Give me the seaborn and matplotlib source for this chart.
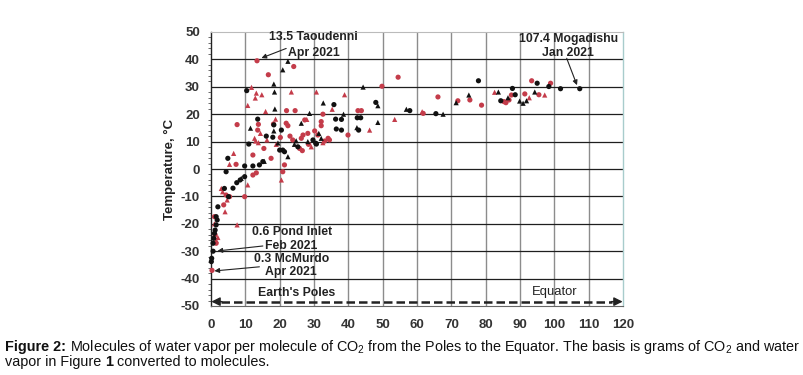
import numpy as np
import pandas as pd
import matplotlib
matplotlib.use("Agg")
import matplotlib.pyplot as plt
import seaborn as sns
from matplotlib.ticker import MultipleLocator
from matplotlib import font_manager

# ---------------- data ----------------
red_circle_x = [13.4, 24.1, 16.7, 49.8, 54.5, 7.6, 22.0, 24.5, 13.8, 18.2, 13.6, 15.4, 12.2,
                17.5, 7.3, 12.2, 13.2, 42.8, 43.8, 39.9, 32.6, 27.3, 21.9, 22.4, 32.1, 32.1,
                30.2, 28.2, 26.8, 26.3, 33.1, 34.1, 34.5, 23.8, 25.8, 26.6, 28.4, 21.4, 20.9,
                4.4, 5.4, 9.8, 3.7, 1.0, 1.5, 0.3, 61.8, 66.1, 71.9, 75.4, 78.8, 85.3, 85.9,
                86.8, 87.5, 91.4, 93.4, 95.5, 98.9, 31.1, 20.2, 23.0, 1.2]
red_circle_y = [39.5, 37.4, 34.4, 30.2, 33.5, 16.2, 21.3, 21.3, 16.3, 16.4, 14.2, 7.5, 5.1,
                3.9, 1.7, -2.2, -1.4, 21.3, 21.3, 12.4, 20.0, 17.9, 16.7, 15.8, 17.3, 15.8,
                13.9, 13.0, 12.4, 11.2, 10.2, 11.2, 10.6, 10.6, 7.5, 6.7, 9.0, 1.5, -1.0,
                -9.5, -10.1, -10.1, -13.1, -17.4, -27.1, -37.0, 20.3, 26.3, 24.9, 25.2, 23.3, 24.6, 24.2,
                25.2, 27.0, 27.4, 32.2, 27.1, 31.3, 12.4, 11.5, 12.0, -24.0]

red_triangle_x = [11.8, 13.2, 14.8, 12.9, 10.7, 15.9, 18.8, 23.4, 30.7, 38.9, 13.0, 14.4, 16.3,
                  12.7, 13.8, 19.0, 6.6, 5.4, 10.7, 3.4, 4.7, 4.1, 7.6, 3.0, 20.5, 29.2, 32.6,
                  35.3, 46.2, 53.5, 61.5, 82.6, 92.7, 97.2, 27.9, 1.5, 2.0, 1.0]
red_triangle_y = [29.8, 27.7, 27.1, 25.9, 23.2, 21.0, 18.2, 28.1, 28.1, 27.1, 10.2, 13.0, 10.6,
                  11.2, 9.6, 9.0, 5.7, 1.7, -5.8, -8.3, -11.3, -15.6, -20.4, -7.1, -4.0, 8.1, 9.6,
                  21.8, 14.2, 18.1, 20.9, 28.0, 26.0, 27.0, 18.1, -26.0, -25.0, -20.0]

black_circle_x = [10.4, 13.6, 18.3, 16.1, 18.0, 11.0, 20.0, 4.9, 15.1, 12.2, 9.8, 14.1, 4.4, 9.8,
                  35.8, 36.3, 38.0, 42.6, 43.6, 36.5, 38.0, 29.7, 30.5, 30.7, 25.3, 20.9, 21.4,
                  20.5, 48.0, 57.9, 65.5, 77.9, 84.4, 87.8, 88.6, 95.0, 98.4, 101.8, 107.4,
                  5.1, 3.9, 6.4, 1.5, 1.8, 1.5, 1.2, 1.0, 0.8, 0.6, 0.6, 0.2, 0.1, 2.0, 7.5,
                  8.5, 43.0]
black_circle_y = [28.6, 18.2, 16.1, 12.0, 11.6, 9.1, 6.9, 3.9, 2.7, 1.1, 1.1, 1.5, -1.0, -2.8,
                  23.5, 18.2, 18.1, 18.7, 18.7, 14.6, 14.2, 10.6, 9.4, 9.1, 8.1, 6.9, 6.3,
                  14.2, 24.3, 21.3, 20.2, 32.2, 24.9, 29.4, 27.1, 31.3, 30.1, 29.3, 29.3,
                  -10.1, -7.1, -7.0, -17.4, -18.6, -20.4, -22.3, -23.5, -25.3, -27.1, -30.0, -32.6, -33.8, -13.8, -5.0,
                  -4.0, 14.2]

black_triangle_x = [22.4, 20.9, 18.3, 18.5, 11.5, 18.6, 18.3, 44.3, 32.7, 28.7, 38.6, 42.5, 48.6,
                    48.6, 26.3, 31.4, 32.1, 24.8, 24.3, 28.2, 22.4, 8.8, 56.9, 67.6, 71.4, 75.1,
                    83.7, 86.5, 89.9, 90.9, 91.9, 94.3, 15.5, 19.5]
black_triangle_y = [39.3, 36.2, 31.0, 28.1, 14.9, 21.9, 13.9, 29.9, 24.1, 20.3, 20.0, 15.1, 23.1,
                    17.0, 16.7, 13.0, 11.2, 10.3, 9.0, 10.0, 4.5, -3.4, 21.8, 20.0, 24.2, 27.0,
                    28.1, 26.0, 24.8, 24.0, 24.9, 28.1, 2.8, 9.5]

x_ticks = [0, 10, 20, 30, 40, 50, 60, 70, 80, 90, 100, 110, 120]
y_ticks = [-50, -40, -30, -20, -10, 0, 10, 20, 30, 40, 50]
y_label = "Temperature, \u00b0C"

# ---------------- style ----------------
sns.set_theme(style="white")
names = {f.name for f in font_manager.fontManager.ttflist}
base = "Liberation Sans" if "Liberation Sans" in names else "DejaVu Sans"
narrow = "Liberation Sans Narrow" if "Liberation Sans Narrow" in names else base
plt.rcParams["font.family"] = [base, "DejaVu Sans"]
plt.rcParams["axes.unicode_minus"] = False

RED = "#c43c4a"
BLACK = "#111111"
TXT = "#222222"

W, H = 804, 375
fig = plt.figure(figsize=(W / 100, H / 100), dpi=100)
fig.patch.set_facecolor("white")
ax = fig.add_axes([211 / W, 1 - 306 / H, 412 / W, 274 / H])

df = pd.concat([
    pd.DataFrame({"x": red_circle_x, "y": red_circle_y, "colour": "red", "shape": "circle"}),
    pd.DataFrame({"x": red_triangle_x, "y": red_triangle_y, "colour": "red", "shape": "triangle"}),
    pd.DataFrame({"x": black_circle_x, "y": black_circle_y, "colour": "black", "shape": "circle"}),
    pd.DataFrame({"x": black_triangle_x, "y": black_triangle_y, "colour": "black", "shape": "triangle"}),
], ignore_index=True)

sns.scatterplot(data=df, x="x", y="y", hue="colour", style="shape",
                palette={"red": RED, "black": BLACK},
                markers={"circle": "o", "triangle": "^"},
                s=14, linewidth=0, legend=False, ax=ax, zorder=3)
for coll in ax.collections:
    coll.set_clip_on(False)

ax.set_xlim(0, 120)
ax.set_ylim(-50, 50)
ax.set_xticks(x_ticks)
ax.set_yticks(y_ticks)
ax.set_xticklabels([str(v) for v in x_ticks])
ax.set_yticklabels([str(v) for v in y_ticks])
ax.yaxis.set_minor_locator(MultipleLocator(2))
ax.tick_params(axis="both", which="major", labelsize=9.5, labelcolor="#333333",
               length=4, width=0.8, color="#333333", pad=4, direction="out")
ax.tick_params(axis="y", which="minor", length=2.5, width=0.6, color="#555555", left=True)
ax.tick_params(axis="x", which="major", pad=5)
for lab in ax.get_xticklabels() + ax.get_yticklabels():
    lab.set_fontweight("bold")

# grid
for v in x_ticks[1:-1]:
    ax.axvline(v, color="#8c8c8c", lw=1.0, zorder=1)
for v in y_ticks[1:-1]:
    ax.axhline(v, color="#1e1e1e", lw=0.9, zorder=1)

for side, sp in ax.spines.items():
    sp.set_visible(True)
ax.spines["left"].set_color("#222222")
ax.spines["left"].set_linewidth(1.0)
ax.spines["bottom"].set_color("#666666")
ax.spines["bottom"].set_linewidth(0.8)
ax.spines["top"].set_color("#bbbbbb")
ax.spines["top"].set_linewidth(0.8)
ax.spines["right"].set_color("#a8cccc")
ax.spines["right"].set_linewidth(1.0)

ax.set_xlabel("")
ax.set_ylabel(y_label, fontsize=9.5, fontweight="bold", color=TXT)
ax.yaxis.set_label_coords(-0.084, 0.5)

# annotations
afs = 8.8
def label(x, y, s, weight="bold", size=afs):
    ax.text(x, y, s, ha="center", va="center", fontsize=size, fontweight=weight,
            color=TXT, zorder=5)

def arrow(x0, y0, x1, y1):
    ax.annotate("", xy=(x1, y1), xytext=(x0, y0),
                arrowprops=dict(arrowstyle="-|>", color=TXT, lw=0.8,
                                mutation_scale=7, shrinkA=0, shrinkB=0),
                zorder=5, annotation_clip=False)

label(29.9, 48.2, "13.5 Taoudenni")
label(29.9, 42.5, "Apr 2021")
arrow(21.9, 44.0, 14.7, 40.5)

label(104.2, 47.3, "107.4 Mogadishu")
label(104.0, 42.5, "Jan 2021")
arrow(103.6, 40.4, 106.6, 30.6)

label(23.6, -22.9, "0.6 Pond Inlet")
label(23.3, -28.0, "Feb 2021")
arrow(15.1, -28.1, 1.9, -29.9)

label(23.6, -33.0, "0.3 McMurdo")
label(23.4, -37.6, "Apr 2021")
arrow(14.1, -35.7, 1.0, -37.2)

label(24.8, -45.2, "Earth's Poles", weight="bold", size=8.8)
label(100.0, -44.9, "Equator", weight="normal", size=9.4)

# dashed double arrow
ya = -48.4
ax.plot([3.0, 116.8], [ya, ya], color=TXT, lw=1.8, ls=(0, (3.4, 1.6)), zorder=4,
        clip_on=False)
ax.annotate("", xy=(0.1, ya), xytext=(3.2, ya),
            arrowprops=dict(arrowstyle="-|>", color=TXT, lw=1.0, mutation_scale=13,
                            shrinkA=0, shrinkB=0), zorder=5, annotation_clip=False)
ax.annotate("", xy=(119.9, ya), xytext=(116.6, ya),
            arrowprops=dict(arrowstyle="-|>", color=TXT, lw=1.0, mutation_scale=13,
                            shrinkA=0, shrinkB=0), zorder=5, annotation_clip=False)

# ---------------- caption ----------------
renderer = fig.canvas.get_renderer()

def seg_width(s, size, weight):
    t = fig.text(0, 0, s, fontsize=size, fontweight=weight, family=[narrow, base])
    w = t.get_window_extent(renderer).width
    t.remove()
    return w

co2 = r"CO$\mathregular{_2}$"
line1 = [("Figure 2:", "bold"),
         (" ", "normal"),
         ("Molecules of water vapor per molecule of " + co2 +
          " from the Poles to the Equator. The basis is grams of " + co2 + " and water", "normal")]
line2 = [("vapor in Figure", "normal"), (" ", "normal"), ("1", "bold"), (" ", "normal"),
         ("converted to molecules.", "normal")]

def widths(segs, size):
    out = []
    for s, w in segs:
        if s == " ":
            out.append(seg_width("x x", size, w) - seg_width("xx", size, w))
        else:
            out.append(seg_width(s, size, w))
    return out

trial = 10.0
total = sum(widths(line1, trial))
cap_size = trial * 792.0 / total

def draw_line(segs, x0_px, base_px):
    x = x0_px
    for (s, w), wd in zip(segs, widths(segs, cap_size)):
        if s != " ":
            fig.text(x / W, 1 - base_px / H, s, fontsize=cap_size, fontweight=w,
                     family=[narrow, base], color="#111111", va="baseline", ha="left")
        x += wd

draw_line(line1, 5, 351)
draw_line(line2, 5, 366)

fig.savefig("out.png", dpi=100, facecolor="white")
